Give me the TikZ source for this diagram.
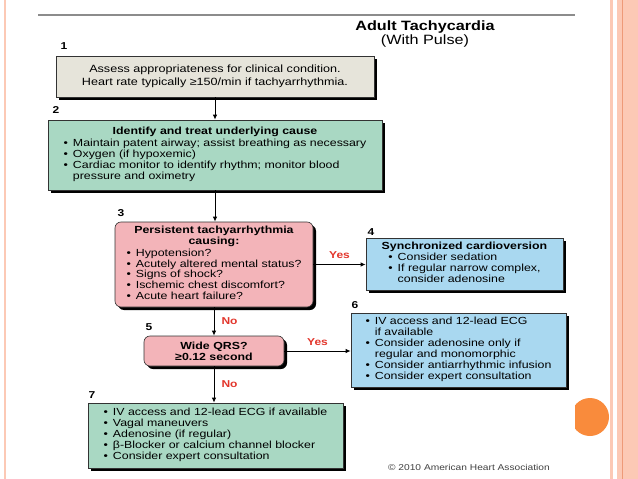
\documentclass[tikz,border=0pt]{standalone}
\usepackage{fontspec}
\setmainfont{Liberation Sans}[FakeStretch=1.2]
\usetikzlibrary{arrows.meta,shadows}
\definecolor{boxgray}{HTML}{E6E4DA}
\definecolor{boxgreen}{HTML}{A9D8C3}
\definecolor{boxpink}{HTML}{F3B4B9}
\definecolor{boxblue}{HTML}{A9D8F0}
\definecolor{ahared}{HTML}{E2352B}
\definecolor{framepink}{HTML}{FCC9B5}
\definecolor{frameline}{HTML}{EE9A78}
\definecolor{dotorange}{HTML}{F98B3C}
\newcommand{\blist}[1]{\begin{tabular}{@{}l@{\hspace{5pt}}l@{}}#1\end{tabular}}
\newcommand{\bu}{\textbullet}
\begin{document}
\begin{tikzpicture}[x=1pt,y=-1pt,
  box/.style={draw=black!80, line width=0.6pt,
    drop shadow={shadow xshift=3pt, shadow yshift=-3pt, opacity=1, fill=black},
    inner sep=0pt, font=\fontsize{10.3}{10.9}\selectfont, align=center},
  num/.style={font=\fontsize{10}{10}\selectfont\bfseries, inner sep=0pt},
  lab/.style={font=\fontsize{10}{10}\selectfont\bfseries, text=ahared, inner sep=0pt},
  arr/.style={-{Latex[length=5pt,width=4.5pt]}, line width=1pt}]
\useasboundingbox (0,0) rectangle (638,479);
% slide frame
\draw[framepink, line width=1.5pt] (5,0) -- (5,479);
\fill[framepink] (610,0) rectangle (638,479);
\fill[white] (613,0) rectangle (617,479);
\draw[frameline, line width=0.8pt] (622,0) -- (622,479);
\begin{scope}
  \clip (575,390) rectangle (612,445);
  \fill[dotorange] (590,417) circle (19);
\end{scope}
\draw[black!45, line width=1.4pt] (38,15) -- (575,15);
% title
\node[align=center, inner sep=0pt, font=\fontsize{13.5}{12}\selectfont] (title) at (425,34)
  {\textbf{Adult Tachycardia}\\(With Pulse)};
% boxes
\node[box, fill=boxgray, minimum width=318, minimum height=41, font=\fontsize{10.5}{13}\selectfont] (b1) at (215,76.5)
  {Assess appropriateness for clinical condition.\\Heart rate typically ≥150/min if tachyarrhythmia.};
\node[box, fill=boxgreen, minimum width=334, minimum height=70] (b2) at (215,155)
  {\textbf{Identify and treat underlying cause}\\[1pt]
   \blist{\bu & Maintain patent airway; assist breathing as necessary\\
          \bu & Oxygen (if hypoxemic)\\
          \bu & Cardiac monitor to identify rhythm; monitor blood\\
              & pressure and oximetry}};
\node[box, fill=boxpink, rounded corners=6pt, minimum width=198, minimum height=85] (b3) at (214,264.5)
  {\textbf{Persistent tachyarrhythmia}\\\textbf{causing:}\\[1pt]
   \blist{\bu & Hypotension?\\
          \bu & Acutely altered mental status?\\
          \bu & Signs of shock?\\
          \bu & Ischemic chest discomfort?\\
          \bu & Acute heart failure?}};
\node[box, fill=boxblue, minimum width=197, minimum height=52] (b4) at (464.5,264)
  {\textbf{Synchronized cardioversion}\\
   \blist{\bu & Consider sedation\\
          \bu & If regular narrow complex,\\
              & consider adenosine}};
\node[box, fill=boxpink, rounded corners=6pt, minimum width=140, minimum height=30] (b5) at (214,351)
  {\textbf{Wide QRS?}\\\textbf{≥0.12 second}};
\node[box, fill=boxblue, minimum width=215, minimum height=74] (b6) at (458.5,350)
  {\blist{\bu & IV access and 12-lead ECG\\
              & if available\\
          \bu & Consider adenosine only if\\
              & regular and monomorphic\\
          \bu & Consider antiarrhythmic infusion\\
          \bu & Consider expert consultation}};
\node[box, fill=boxgreen, minimum width=255, minimum height=65] (b7) at (215.5,435.5)
  {\blist{\bu & IV access and 12-lead ECG if available\\
          \bu & Vagal maneuvers\\
          \bu & Adenosine (if regular)\\
          \bu & β-Blocker or calcium channel blocker\\
          \bu & Consider expert consultation}};
% step numbers
\node[num] (n1) at (64,46) {1};
\node[num] (n2) at (56,110) {2};
\node[num] (n3) at (121,213) {3};
\node[num] (n4) at (371,232) {4};
\node[num] (n5) at (149,327) {5};
\node[num] (n6) at (355,305) {6};
\node[num] (n7) at (92,395) {7};
% connectors
\draw[arr] (b1.south) -- (b1.south |- b2.north);
\draw[arr] (b2.south) -- (b2.south |- b3.north);
\draw[arr] (b3.east) -- node[lab, above=5pt] (yes1) {Yes} (b3.east -| b4.west);
\draw[arr] (b3.south) -- node[lab, right=7pt] (no1) {No} (b3.south |- b5.north);
\draw[arr] (b5.east) -- node[lab, above=5pt] (yes2) {Yes} (b5.east -| b6.west);
\draw[arr] (b5.south) -- node[lab, right=7pt] (no2) {No} (b5.south |- b7.north);
% copyright
\node[inner sep=0pt, text=black!75, font=\fontsize{8.5}{9}\selectfont] (copy) at (469,467) {© 2010 American Heart Association};
\end{tikzpicture}
\end{document}
